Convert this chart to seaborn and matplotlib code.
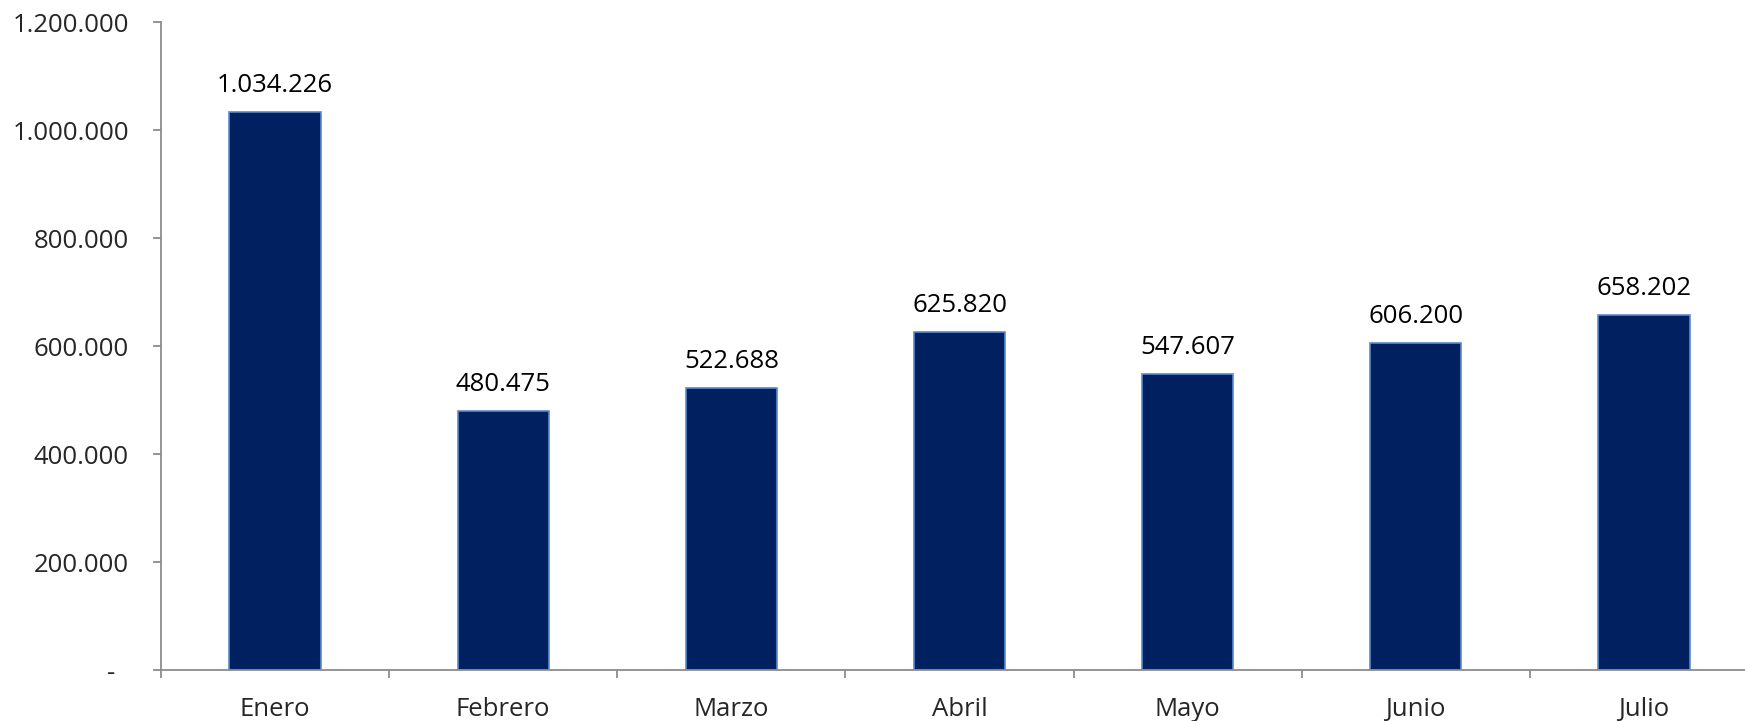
import matplotlib
matplotlib.use("Agg")
import matplotlib.pyplot as plt
import seaborn as sns
import pandas as pd
import numpy as np
from matplotlib.ticker import FuncFormatter, FixedLocator

months = ["Enero", "Febrero", "Marzo", "Abril", "Mayo", "Junio", "Julio"]
values = [1034226, 480475, 522688, 625820, 547607, 606200, 658202]
yticks = [0, 200000, 400000, 600000, 800000, 1000000, 1200000]

sns.set_style("white")
plt.rcParams['font.family'] = ['Open Sans', 'DejaVu Sans']

df = pd.DataFrame({"mes": months, "valor": values})

fig = plt.figure(figsize=(17.45, 7.21), dpi=100)
W, H = 1745, 721
ax = fig.add_axes([161 / W, (H - 670) / H, 1597 / W, (670 - 22) / H])

sns.barplot(data=df, x="mes", y="valor", ax=ax, color="#002060", width=0.4,
            edgecolor="#5B8BC9", linewidth=1.2, saturation=1)

def fmt(v):
    return f"{int(round(v)):,}".replace(",", ".")

FS = 18.5
ax.set_ylim(0, 1200000)
ax.set_xlim(-0.5, len(months) - 0.5)
ax.yaxis.set_major_locator(FixedLocator(yticks))
ax.yaxis.set_major_formatter(FuncFormatter(lambda v, p: "-  " if v == 0 else fmt(v)))

for i, v in enumerate(values):
    ax.annotate(fmt(v), (i, v), xytext=(0, 10), textcoords="offset points",
                ha="center", va="bottom", fontsize=FS, color="black")

for s in ["top", "right"]:
    ax.spines[s].set_visible(False)
for s in ["left", "bottom"]:
    ax.spines[s].set_color("#8C8C8C")
    ax.spines[s].set_linewidth(1.3)

ax.set_xlabel("")
ax.set_ylabel("")
ax.tick_params(axis="y", which="major", length=6, width=1.3, color="#8C8C8C",
               labelsize=FS, pad=17, left=True, direction="out")
ax.tick_params(axis="x", which="major", length=0, labelsize=FS, pad=19.5)
ax.xaxis.set_minor_locator(FixedLocator(np.arange(-0.5, len(months), 1.0)))
ax.tick_params(axis="x", which="minor", length=6, width=1.3, color="#8C8C8C",
               bottom=True, direction="out")
ax.grid(False)

fig.savefig("out.png", dpi=100)
